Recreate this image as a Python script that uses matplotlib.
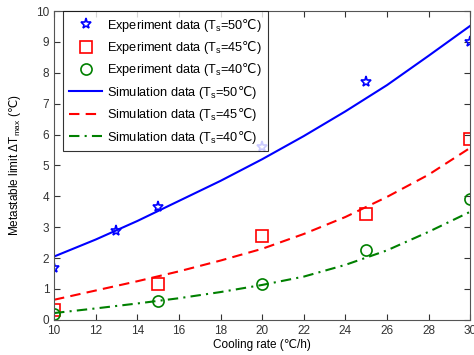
import numpy as np
import matplotlib.pyplot as plt

plt.rcParams['font.family'] = ['Liberation Sans', 'DejaVu Sans']
plt.rcParams['mathtext.fontset'] = 'custom'
plt.rcParams['mathtext.rm'] = 'DejaVu Sans'

# measured points
exp_x = [10, 13, 15, 20, 25, 30]
exp_50 = [1.68, 2.89, 3.67, 5.61, 7.71, 9.0]
exp_x2 = [10, 15, 20, 25, 30]
exp_45 = [0.32, 1.17, 2.7, 3.42, 5.85]
exp_40 = [0.18, 0.61, 1.16, 2.27, 3.9]

# model curves
sim_x = [10, 12, 14, 16, 18, 20, 22, 24, 26, 28, 30]
sim_50 = [2.05, 2.6, 3.2, 3.85, 4.5, 5.2, 5.95, 6.75, 7.6, 8.55, 9.52]
sim_45 = [0.65, 0.95, 1.25, 1.57, 1.92, 2.3, 2.78, 3.33, 3.98, 4.7, 5.57]
sim_40 = [0.22, 0.37, 0.53, 0.7, 0.9, 1.13, 1.4, 1.78, 2.25, 2.85, 3.5]

C = '$\\mathrm{℃}$'

fig = plt.figure(figsize=(4.74, 3.55), dpi=100)
ax = fig.add_axes([0.114, 0.099, 0.878, 0.870])

ax.plot(exp_x, exp_50, 'b*', ms=8, mfc='none', mew=1.2, label='Experiment data (T$_\\mathregular{s}$=50' + C + ')')
ax.plot(exp_x2, exp_45, 's', color='red', ms=8, mfc='none', mew=1.2, label='Experiment data (T$_\\mathregular{s}$=45' + C + ')')
ax.plot(exp_x2, exp_40, 'o', color='green', ms=8, mfc='none', mew=1.2, label='Experiment data (T$_\\mathregular{s}$=40' + C + ')')
ax.plot(sim_x, sim_50, '-', color='blue', lw=1.5, label='Simulation data (T$_\\mathregular{s}$=50' + C + ')')
ax.plot(sim_x, sim_45, '--', color='red', lw=1.5, dashes=(5, 3), label='Simulation data (T$_\\mathregular{s}$=45' + C + ')')
ax.plot(sim_x, sim_40, '-.', color='green', lw=1.5, dashes=(5, 2.5, 1, 2.5), label='Simulation data (T$_\\mathregular{s}$=40' + C + ')')

ax.set_xlim(10, 30)
ax.set_ylim(0, 10)
ax.set_xticks(np.arange(10, 31, 2))
ax.set_yticks(np.arange(0, 11, 1))
ax.tick_params(direction='in', top=True, right=True, labelsize=8.5, length=4, colors='#333333')
for s in ax.spines.values():
    s.set_color('#555555')

ax.set_xlabel('Cooling rate (℃/h)', fontsize=8.5, labelpad=2)
ax.set_ylabel('Metastable limit ΔT$_\\mathregular{max}$ (' + C + ')', fontsize=8.5, labelpad=9)

leg = ax.legend(loc='upper left', fontsize=9.2, frameon=True, fancybox=False,
                edgecolor='black', borderaxespad=0, handlelength=2.6,
                labelspacing=0.42, borderpad=0.45, handletextpad=0.4,
                bbox_to_anchor=(0.022, 1.0))
leg.get_frame().set_linewidth(0.8)

fig.savefig('out.png', dpi=100)
